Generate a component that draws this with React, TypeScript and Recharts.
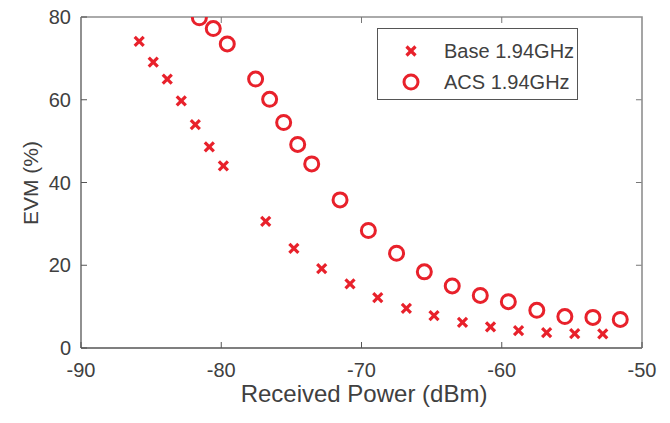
import React from 'react';
import { ScatterChart, Scatter, XAxis, YAxis, Legend, ReferenceLine } from 'recharts';

const baseX = [-85.85, -84.85, -83.85, -82.85, -81.85, -80.85, -79.85, -76.83, -74.82, -72.84, -70.82, -68.84, -66.8, -64.83, -62.8, -60.8, -58.8, -56.8, -54.8, -52.8];
const baseY = [74.1, 69.1, 65.0, 59.7, 54.0, 48.6, 44.0, 30.6, 24.1, 19.2, 15.5, 12.2, 9.6, 7.8, 6.2, 5.1, 4.2, 3.7, 3.5, 3.4];
const acsX = [-81.56, -80.57, -79.57, -77.55, -76.55, -75.55, -74.55, -73.55, -71.53, -69.51, -67.5, -65.52, -63.53, -61.53, -59.53, -57.5, -55.5, -53.5, -51.55];
const acsY = [79.8, 77.2, 73.5, 65.0, 60.1, 54.5, 49.2, 44.5, 35.8, 28.4, 22.9, 18.4, 15.0, 12.7, 11.2, 9.1, 7.6, 7.4, 6.9];
const xTicks = [-90, -80, -70, -60, -50];
const yTicks = [0, 20, 40, 60, 80];
const seriesNames = ['Base 1.94GHz', 'ACS 1.94GHz'];

const baseData = baseX.map((x, i) => ({ x, y: baseY[i] }));
const acsData = acsX.map((x, i) => ({ x, y: acsY[i] }));

const X_MIN = -90, X_MAX = -50, Y_MIN = 0, Y_MAX = 80;
const TICK_X_LEN = 0.43; // ~6px in x units

// plot frame (layout)
const PLOT = { left: 81, top: 17, right: 28, bottom: 75, width: 670, height: 423 };
const PLOT_RIGHT = PLOT.width - PLOT.right;
const PLOT_BOTTOM = PLOT.height - PLOT.bottom;

const RED = '#e8212b';
const TEXT = '#404040';
const FRAME = '#8f8f8f';
const FONT = '"Liberation Sans", Arial, sans-serif';

const Cross = (props: any) => {
  const { cx, cy } = props;
  const s = 4.5;
  return (
    <g stroke={RED} strokeWidth={3.2}>
      <line x1={cx - s} y1={cy - s} x2={cx + s} y2={cy + s} />
      <line x1={cx - s} y1={cy + s} x2={cx + s} y2={cy - s} />
    </g>
  );
};

const Ring = (props: any) => {
  const { cx, cy } = props;
  return <circle cx={cx} cy={cy} r={7} fill="none" stroke={RED} strokeWidth={3} />;
};

const LeftTick = (props: any) => {
  const { x, y, payload } = props;
  return (
    <g>
      <line x1={x + 10} x2={x + 16} y1={y} y2={y} stroke="#555" strokeWidth={1} />
      <text x={x} y={y} dy="0.36em" textAnchor="end" fill={TEXT} fontSize={20} fontFamily={FONT}>{payload.value}</text>
    </g>
  );
};

// Bottom tick also mirrors itself on the top edge of the box (same x from the axis scale)
const BottomTick = (props: any) => {
  const { x, y, payload } = props;
  const isEdge = payload.value === X_MIN || payload.value === X_MAX;
  return (
    <g>
      <line x1={x} x2={x} y1={y - 15} y2={y - 21} stroke="#555" strokeWidth={1} />
      {!isEdge && <line x1={x} x2={x} y1={PLOT.top} y2={PLOT.top + 6} stroke="#777" strokeWidth={1} />}
      <text x={x} y={y} dy="0.72em" textAnchor="middle" fill={TEXT} fontSize={20} fontFamily={FONT}>{payload.value}</text>
    </g>
  );
};

const LegendBox = () => (
  <div style={{ position: 'absolute', left: 377, top: 28, width: 201, height: 72, border: '1px solid #555', boxSizing: 'border-box', background: '#fff', fontFamily: FONT, fontSize: 20, color: TEXT }}>
    <svg width={30} height={72} style={{ position: 'absolute', left: 18, top: 0 }}>
      <Cross cx={15} cy={22} />
      <Ring cx={15} cy={53} />
    </svg>
    <div style={{ position: 'absolute', left: 66, top: 10, whiteSpace: 'nowrap', lineHeight: '24px' }}>{seriesNames[0]}</div>
    <div style={{ position: 'absolute', left: 66, top: 41, whiteSpace: 'nowrap', lineHeight: '24px' }}>{seriesNames[1]}</div>
  </div>
);

export default function App() {
  return (
    <div style={{ position: 'absolute', left: 0, top: 0, width: PLOT.width, height: PLOT.height, background: '#fff' }}>
      <ScatterChart width={PLOT.width} height={PLOT.height} margin={{ top: PLOT.top, right: PLOT.right, bottom: 0, left: 0 }}>
        <XAxis
          dataKey="x"
          type="number"
          domain={[X_MIN, X_MAX]}
          ticks={xTicks}
          allowDataOverflow
          height={PLOT.bottom}
          tickSize={0}
          tickMargin={15}
          tick={<BottomTick />}
          axisLine={{ stroke: '#555', strokeWidth: 1.3 }}
          label={() => (
            <text x={364} y={402} textAnchor="middle" fill={TEXT} fontSize={24} fontFamily={FONT}>Received Power (dBm)</text>
          )}
        />
        <YAxis
          dataKey="y"
          type="number"
          domain={[Y_MIN, Y_MAX]}
          ticks={yTicks}
          allowDataOverflow
          width={PLOT.left}
          tickSize={0}
          tickMargin={10}
          tick={<LeftTick />}
          axisLine={{ stroke: '#555', strokeWidth: 1.3 }}
          label={() => (
            <g>
              <path
                d={`M${PLOT.left},${PLOT.top} L${PLOT_RIGHT},${PLOT.top} L${PLOT_RIGHT},${PLOT_BOTTOM}`}
                fill="none"
                stroke={FRAME}
                strokeWidth={1.6}
              />
              <text x={38} y={183} transform="rotate(-90 38 183)" textAnchor="middle" fill={TEXT} fontSize={21} fontFamily={FONT}>EVM (%)</text>
            </g>
          )}
        />
        {yTicks.slice(1, -1).map((t) => (
          <ReferenceLine key={'ty' + t} segment={[{ x: X_MAX, y: t }, { x: X_MAX - TICK_X_LEN, y: t }]} stroke="#777" strokeWidth={1} ifOverflow="visible" />
        ))}
        <Legend content={() => <LegendBox />} wrapperStyle={{ position: 'absolute', left: 0, top: 0, width: 0, height: 0 }} />
        <Scatter name={seriesNames[0]} data={baseData} shape={<Cross />} isAnimationActive={false} />
        <Scatter name={seriesNames[1]} data={acsData} shape={<Ring />} isAnimationActive={false} />
      </ScatterChart>
    </div>
  );
}
